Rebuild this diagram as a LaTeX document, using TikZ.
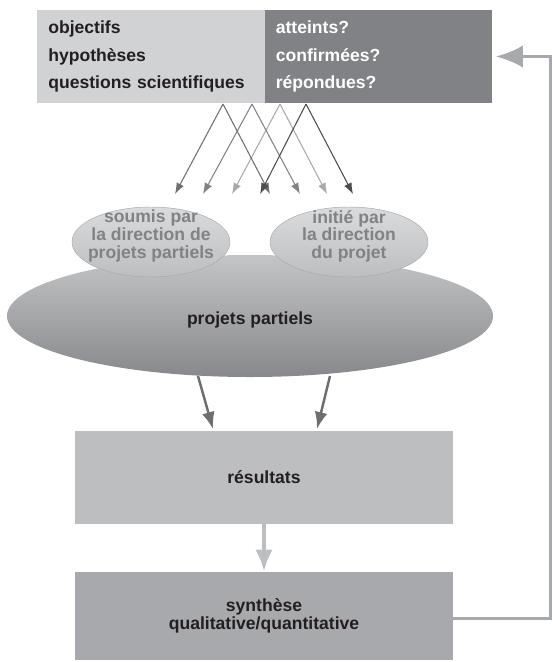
\documentclass[tikz,border=0pt]{standalone}
\usepackage{fontspec}
\setmainfont{Liberation Sans}
\usetikzlibrary{shapes.geometric, arrows.meta}

\definecolor{paleG}{HTML}{D1D2D4}
\definecolor{midG}{HTML}{808285}
\definecolor{resG}{HTML}{BCBEC0}
\definecolor{synG}{HTML}{A7A9AC}
\definecolor{darkG}{HTML}{6D6E71}
\definecolor{deepG}{HTML}{4D4D4F}
\definecolor{inkG}{HTML}{231F20}

\begin{document}
\begin{tikzpicture}[x=0.03cm, y=-0.03cm]
\tikzset{
  txt/.style={font=\bfseries\fontsize{15}{23.5}\selectfont},
  topbox/.style={rectangle, inner sep=0pt, minimum width=6.82cm,
    minimum height=2.79cm, text width=6.16cm, align=left, txt},
  subproj/.style={ellipse, draw=synG, line width=0.4pt, inner sep=0pt,
    minimum width=4.74cm, minimum height=2.1cm,
    top color=paleG!80!white, bottom color=resG},
  subtxt/.style={align=center, text=midG,
    font=\bfseries\fontsize{15}{15}\selectfont},
  mainproj/.style={ellipse, inner sep=0pt, minimum width=14.58cm,
    minimum height=3.66cm, top color=resG!90!white, bottom color=midG!95!white},
  resbox/.style={rectangle, inner sep=0pt, minimum width=11.34cm,
    minimum height=2.79cm, align=center, text=inkG,
    font=\bfseries\fontsize{15}{15.4}\selectfont},
  fan/.style={line width=0.9pt, -{Latex[length=9.4pt, width=7pt]}},
  down/.style={line width=2.1pt, darkG, -{Latex[length=14.5pt, width=11pt]}},
  back/.style={line width=2.8pt, synG, -{Latex[length=23pt, width=19pt]}}
}
\useasboundingbox (0,0) rectangle (552,662);

% objectives
\node[topbox, fill=paleG, text=inkG] (goals) at (151,56.5)
  {objectifs\\hypothèses\\questions scientifiques};
\node[topbox, fill=midG, text=white] (check) at (378.5,56.5)
  {atteints?\\confirmées?\\répondues?};

% partial projects
\node[mainproj] (proj) at (250,316) {};
\node[txt, text=inkG] (projtxt) at (250,320) {projets partiels};
\node[subproj] (subL) at (151,242) {};
\node[subproj] (subR) at (349,242) {};
\node[subtxt] (subLtxt) at (151,236) {soumis par\\la direction de\\projets partiels};
\node[subtxt] (subRtxt) at (349,236) {initié par\\la direction\\du projet};

% results and synthesis
\node[resbox, fill=resG] (res) at (264,477.5) {résultats};
\node[resbox, fill=synG, minimum height=2.64cm] (syn) at (264,616)
  {synthèse\\qualitative/quantitative};

% fan of arrows
\coordinate (o1) at (223,104);
\coordinate (o2) at (252,104);
\coordinate (o3) at (280,104);
\coordinate (o4) at (306,104);
\coordinate (d1) at (175,194);
\coordinate (d2) at (203,194);
\coordinate (d3) at (232,194);
\coordinate (d4) at (260,194);
\coordinate (d5) at (270,194);
\coordinate (d6) at (300,194);
\coordinate (d7) at (327,194);
\coordinate (d8) at (353,194);
\draw[fan, synG] (o3) -- (d3);
\draw[fan, synG] (o3) -- (d7);
\draw[fan, midG] (o2) -- (d2);
\draw[fan, midG] (o2) -- (d6);
\draw[fan, darkG] (o1) -- (d1);
\draw[fan, darkG] (o1) -- (d5);
\draw[fan, deepG] (o4) -- (d4);
\draw[fan, deepG] (o4) -- (d8);

% down to results
\coordinate (p1) at (198,376);
\coordinate (p2) at (330,376);
\coordinate (q1) at (213,429);
\coordinate (q2) at (317,429);
\draw[down] (p1) -- (q1);
\draw[down] (p2) -- (q2);
\draw[line width=3.4pt, resG, -{Latex[length=19pt, width=15pt]}]
  (res.south) -- (syn.north);

% feedback loop
\draw[back] ([yshift=-2pt]syn.east) -- ++(97,0) |- ([xshift=3pt]check.east);
\end{tikzpicture}
\end{document}
